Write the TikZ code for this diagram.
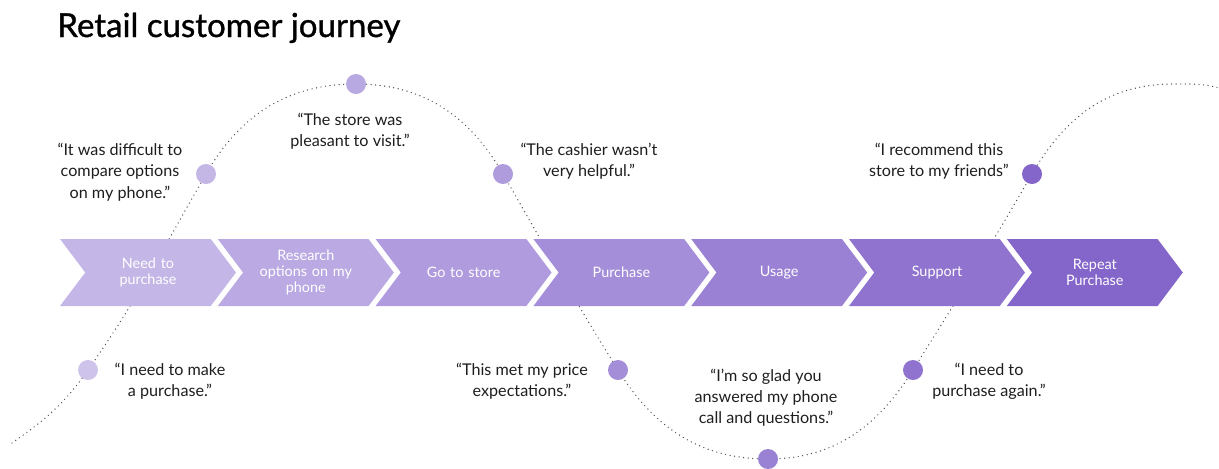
\documentclass[tikz,border=0pt]{standalone}
\usepackage{fontspec}
\setmainfont{Lato}
\newfontfamily\headfont{Lato}[FakeBold=1]
\usepackage{tikz}
\usetikzlibrary{shapes.symbols}
\definecolor{lightend}{HTML}{C4B6E7}
\definecolor{darkend}{HTML}{8465CA}
\definecolor{dotlight}{HTML}{CEC4EB}
\definecolor{curvegray}{HTML}{505050}
\definecolor{quotetext}{HTML}{1E1E1E}
\tikzset{
    stage/.style={shape=signal, signal from=west, signal to=east, signal pointer angle=106,
        minimum width=3.52cm, minimum height=1.34cm, inner sep=0pt, text width=2cm,
        align=center, text=white, font=\fontsize{8.2}{9.1}\selectfont},
    quote/.style={align=center, text=quotetext, font=\fontsize{9.2}{12.1}\selectfont, inner sep=0pt},
    touch/.style={shape=circle, minimum size=0.4cm, inner sep=0pt},
    path dots/.style={draw=curvegray, line width=0.8pt, line cap=round, dash pattern=on 0pt off 2.6pt}}

\begin{document}
\begin{tikzpicture}[x=0.02cm, y=-0.02cm]
    \useasboundingbox (0,0) rectangle (1219,468);

    \node[anchor=base west, inner sep=0pt, font=\headfont\fontsize{18.8}{22}\selectfont] (title) at (57,37) {Retail customer journey};

    % points of the journey line
    \coordinate (c0) at (12,443);
    \coordinate (p1) at (88,370);
    \coordinate (p2) at (206,174);
    \coordinate (p3) at (356,84);
    \coordinate (p4) at (503,174);
    \coordinate (p5) at (618,370);
    \coordinate (p6) at (768,459);
    \coordinate (p7) at (913,370);
    \coordinate (p8) at (1032,174);
    \coordinate (c7) at (1173,84);
    \coordinate (c8) at (1219,88);

    \draw[path dots] (c0) to[out=35, in=235] (p1) to[out=55, in=240] (p2)
        to[out=60, in=180] (p3) to[out=0, in=120] (p4) to[out=-60, in=122] (p5)
        to[out=-58, in=180] (p6) to[out=0, in=238] (p7) to[out=58, in=240] (p8)
        to[out=60, in=180] (c7) to[out=0, in=165] (c8);

    % stages
    \foreach \name/\txt [count=\i] in {need/Need to\\purchase, research/Research\\options on my\\phone, store/Go to store, buy/Purchase, usage/Usage, support/Support, repeat/Repeat\\Purchase}{
        \pgfmathtruncatemacro\mixval{(\i-1)*100/6}
        \node[stage, fill=darkend!\mixval!lightend] (\name) at ({148+157.8*(\i-1)},272.5) {\txt};
    }

    % touchpoints
    \foreach \i in {1,...,8}{
        \pgfmathtruncatemacro\mixval{(\i-1)*100/7}
        \node[touch, fill=darkend!\mixval!dotlight] (d\i) at (p\i) {};
    }

    % quotes
    \node[quote] (q1) at (170,381) {“I need to make\\a purchase.”};
    \node[quote] (q2) at (120,172) {“It was difficult to\\compare options\\on my phone.”};
    \node[quote] (q3) at (350,131) {“The store was\\pleasant to visit.”};
    \node[quote] (q4) at (589,161.5) {“The cashier wasn’t\\very helpful.”};
    \node[quote] (q5) at (522,381.5) {“This met my price\\expectations.”};
    \node[quote] (q6) at (766,397.5) {“I’m so glad you\\answered my phone\\call and questions.”};
    \node[quote] (q7) at (989,381.5) {“I need to\\purchase again.”};
    \node[quote] (q8) at (939,161.5) {“I recommend this\\store to my friends”};

\end{tikzpicture}
\end{document}
